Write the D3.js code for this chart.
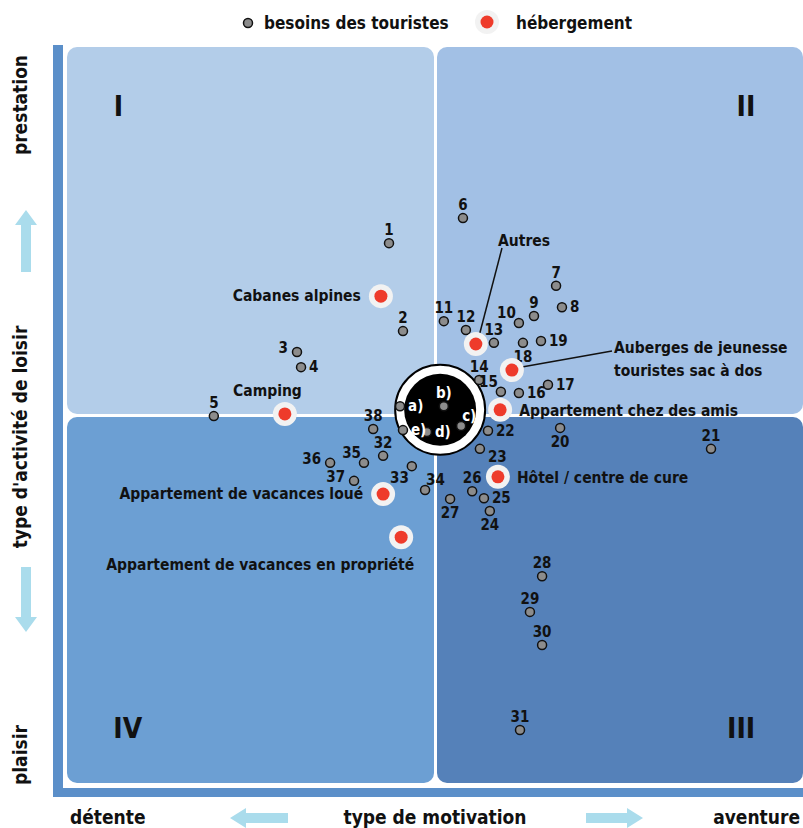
<!DOCTYPE html>
<html>
<head>
<meta charset="utf-8">
<style>
body { margin: 0; background: #fff; }
text { font-family: "Liberation Sans Narrow", "DejaVu Sans Condensed", sans-serif; font-weight: bold; fill: #111; }
</style>
</head>
<body>
<div id="diagram"></div>
<script src="https://cdn.jsdelivr.net/npm/d3@7"></script>
<script>

// --- data (domain -100..100 on both axes) ---
var besoinsIds = ['1','2','3','4','5','6','7','8','9','10','11','12','13','14','15','16','17','18','19','20',
	'21','22','23','24','25','26','27','28','29','30','31','32','33','34','35','36','37','38','a)','b)','c)','d)','e)'];
var besoinsX = [-12.5,-8.7,-37.5,-36.4,-60.1,7.6,32.9,34.5,26.9,22.8,2.4,8.4,16.0,12.0,17.9,22.8,30.7,23.9,28.8,34.0,
	75.0,14.4,12.2,14.9,13.3,10.1,4.1,29.1,25.8,29.1,23.1,-14.1,-6.3,-2.7,-19.3,-28.5,-22.0,-16.8,-9.5,2.4,7.1,-2.2,-8.7];
var besoinsY = [46.7,22.8,17.1,13.0,-0.3,53.5,35.1,29.3,26.9,25.0,25.5,23.1,19.6,9.5,6.3,6.0,8.2,19.6,20.1,-3.5,
	-9.2,-4.3,-9.2,-26.1,-22.6,-20.7,-22.8,-43.8,-53.5,-62.5,-85.6,-11.1,-13.9,-20.4,-13.0,-13.0,-17.9,-3.8,2.4,2.4,-3.0,-4.6,-4.1];

var hebergementNoms = ['Cabanes alpines','Autres','Auberges de jeunesse|touristes sac à dos','Camping',
	'Appartement chez des amis','Hôtel / centre de cure','Appartement de vacances loué','Appartement de vacances en propriété'];
var hebergementX = [-14.7,11.1,20.9,-40.8,17.7,17.1,-14.1,-9.2];
var hebergementY = [32.3,19.3,12.2,0.3,1.4,-16.8,-21.5,-33.2];

var quadrants = ['I','II','III','IV'];
var axeY = ['prestation', "type d'activité de loisir", 'plaisir'];
var axeX = ['détente', 'type de motivation', 'aventure'];
var legende = ['besoins des touristes', 'hébergement'];

// label placement (layout only)
var besoinsPlace = ['t','t','l','r','t','t','t','r','t','tl','t','t','t','t','tl','r','r','b','r','b',
	't','r','br','b','r','t','b','t','t','t','t','t','bl','tr','tl','l','l','t','r','t','tr','r','r'];
var hebergementPlace = ['l','far1','far2','tl','r','r','l','bl'];

var W = 803, H = 828;
var svg = d3.select('#diagram').append('svg').attr('width', W).attr('height', H);

var x = d3.scaleLinear().domain([-100, 100]).range([67, 803]);
var y = d3.scaleLinear().domain([-100, 100]).range([783, 47]);

// frame bars
svg.append('rect').attr('x', 53).attr('y', 45).attr('width', 10).attr('height', 752).attr('fill', '#5b8fc9');
svg.append('rect').attr('x', 53).attr('y', 788).attr('width', 750).attr('height', 9).attr('fill', '#5b8fc9');

// quadrants
var quadFill = ['#b3cde9', '#a2c0e5', '#5581b9', '#6c9fd3'];
var quadBox = [[-100, 0, 100, 0], [0, 100, 100, 0], [0, 100, 0, -100], [-100, 0, 0, -100]];
quadBox.forEach(function(b, i) {
	var x0 = x(b[0]) + (b[0] == 0 ? 2 : 0), x1 = x(b[1]) - (b[1] == 0 ? 1 : 0);
	var y0 = y(b[2]) + (b[2] == 0 ? 2 : 0), y1 = y(b[3]) - (b[3] == 0 ? 1 : 0);
	svg.append('rect').attr('x', x0).attr('y', y0).attr('width', x1 - x0).attr('height', y1 - y0)
		.attr('rx', 10).attr('fill', quadFill[i]);
});

var quadLab = [[-86, 84], [84.5, 84], [83.2, -85], [-83.5, -85]];
svg.selectAll('.quad').data(quadrants).enter().append('text')
	.attr('x', function(d, i) { return x(quadLab[i][0]); })
	.attr('y', function(d, i) { return y(quadLab[i][1]); })
	.attr('text-anchor', 'middle').attr('dy', '0.35em')
	.style('font-size', '28px').style('font-family', '"DejaVu Sans Condensed", sans-serif')
	.text(function(d) { return d; });

// central circle
var cx = x(1.4), cy = y(1.4);
svg.append('circle').attr('cx', cx).attr('cy', cy).attr('r', 45).attr('fill', '#fff').attr('stroke', '#000').attr('stroke-width', 2);
svg.append('circle').attr('cx', cx).attr('cy', cy).attr('r', 36).attr('fill', '#000');

// leader lines
svg.append('line').attr('x1', x(hebergementX[1]) + 4).attr('y1', y(hebergementY[1]) - 11)
	.attr('x2', 502).attr('y2', 248).attr('stroke', '#111').attr('stroke-width', 1.5);
svg.append('line').attr('x1', x(hebergementX[2]) + 10).attr('y1', y(hebergementY[2]) - 3)
	.attr('x2', 612).attr('y2', 351).attr('stroke', '#111').attr('stroke-width', 1.5);

// besoins points
var off = {
	t: ['middle', 0, -8], b: ['middle', 0, 19], r: ['start', 8, 5], l: ['end', -9, 1],
	tl: ['end', -3, -5], tr: ['start', 1, -5], br: ['start', 8, 13], bl: ['end', -3, 17]
};
var besoins = besoinsIds.map(function(id, i) { return { id: id, x: besoinsX[i], y: besoinsY[i], p: besoinsPlace[i] }; });

var g = svg.append('g');
g.selectAll('circle.b').data(besoins).enter().append('circle')
	.attr('cx', function(d) { return x(d.x); }).attr('cy', function(d) { return y(d.y); })
	.attr('r', 4.5).attr('fill', '#8c8c8c').attr('stroke', '#111').attr('stroke-width', 1.5);
g.selectAll('text.b').data(besoins).enter().append('text')
	.attr('x', function(d) { return x(d.x) + off[d.p][1]; })
	.attr('y', function(d) { return y(d.y) + off[d.p][2]; })
	.attr('text-anchor', function(d) { return off[d.p][0]; })
	.style('font-size', '15px')
	.style('fill', function(d) { return d.id.indexOf(')') > 0 ? '#fff' : '#111'; })
	.text(function(d) { return d.id; });

// hebergement points
var hoff = {
	l: ['end', -20, 5], r: ['start', 19, 6], tl: ['end', 17, -18], bl: ['end', 13, 33]
};
var heb = hebergementNoms.map(function(n, i) { return { n: n, x: hebergementX[i], y: hebergementY[i], p: hebergementPlace[i] }; });
var hg = svg.append('g');
hg.selectAll('circle.h').data(heb).enter().append('circle')
	.attr('cx', function(d) { return x(d.x); }).attr('cy', function(d) { return y(d.y); })
	.attr('r', 12).attr('fill', '#f2f2f2');
hg.selectAll('circle.r').data(heb).enter().append('circle')
	.attr('cx', function(d) { return x(d.x); }).attr('cy', function(d) { return y(d.y); })
	.attr('r', 6.5).attr('fill', '#ee3b2b');

heb.forEach(function(d) {
	var px = x(d.x), py = y(d.y);
	var t = hg.append('text').style('font-size', '15.5px');
	if (d.p == 'far1') {
		t.attr('x', 498).attr('y', 246).text(d.n);
	} else if (d.p == 'far2') {
		var parts = d.n.split('|');
		t.attr('x', 614).attr('y', 353).text(parts[0]);
		hg.append('text').style('font-size', '15.5px').attr('x', 614).attr('y', 376).text(parts[1]);
	} else {
		var o = hoff[d.p];
		t.attr('x', px + o[1]).attr('y', py + o[2]).attr('text-anchor', o[0]).text(d.n);
	}
});

// axis titles
var yPos = [105, 437, 755];
svg.selectAll('.ay').data(axeY).enter().append('text')
	.attr('transform', function(d, i) { return 'translate(27,' + yPos[i] + ') rotate(-90)'; })
	.attr('text-anchor', 'middle').style('font-size', '19px')
	.text(function(d) { return d; });

var xPos = [[70, 'start'], [435, 'middle'], [800, 'end']];
svg.selectAll('.ax').data(axeX).enter().append('text')
	.attr('x', function(d, i) { return xPos[i][0]; }).attr('y', 824)
	.attr('text-anchor', function(d, i) { return xPos[i][1]; })
	.style('font-size', '19px')
	.text(function(d) { return d; });

// fat arrows
var arrowFill = '#aadcec';
function arrow(path) { svg.append('path').attr('d', path).attr('fill', arrowFill); }
arrow('M26,210 L37,225 L31,225 L31,272 L21,272 L21,225 L15,225 Z');
arrow('M26,632 L37,617 L31,617 L31,567 L21,567 L21,617 L15,617 Z');
arrow('M230,818 L246,808 L246,813 L288,813 L288,823 L246,823 L246,828 Z');
arrow('M643,818 L627,808 L627,813 L586,813 L586,823 L627,823 L627,828 Z');

// legend
svg.append('circle').attr('cx', 248).attr('cy', 23).attr('r', 4.5).attr('fill', '#8c8c8c').attr('stroke', '#111').attr('stroke-width', 1.5);
svg.append('text').attr('x', 264).attr('y', 29).style('font-size', '17px').text(legende[0]);
svg.append('circle').attr('cx', 487).attr('cy', 22).attr('r', 12).attr('fill', '#f2f2f2');
svg.append('circle').attr('cx', 487).attr('cy', 22).attr('r', 6.5).attr('fill', '#ee3b2b');
svg.append('text').attr('x', 516).attr('y', 29).style('font-size', '17px').text(legende[1]);

</script>
</body>
</html>
